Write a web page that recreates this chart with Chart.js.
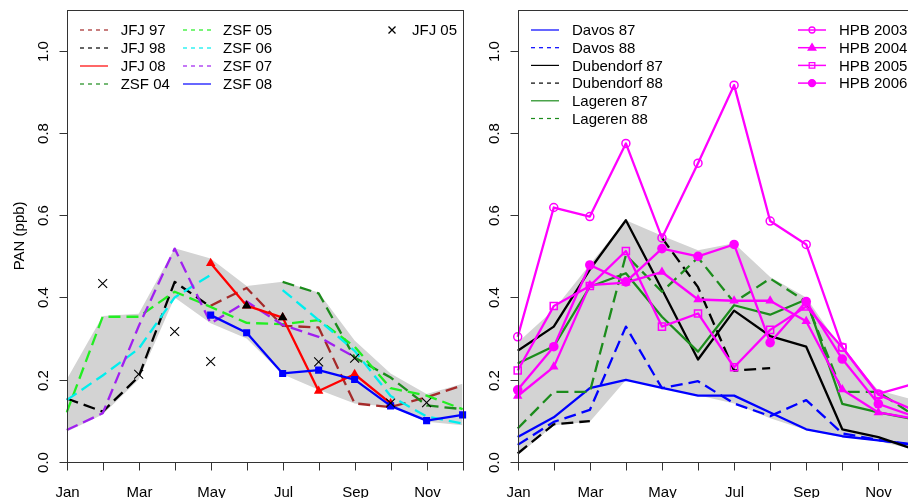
<!DOCTYPE html>
<html>
<head>
<meta charset="utf-8">
<script src="https://cdn.jsdelivr.net/npm/chart.js@4.4.0/dist/chart.umd.min.js"></script>
<style>
html, body { margin: 0; padding: 0; background: #fff; overflow: hidden; width: 908px; height: 498px; }
#leftChart { position: absolute; left: 0; top: 0; }
#rightChart { position: absolute; left: 470px; top: 0; }
</style>
</head>
<body>
<canvas id="leftChart" width="470" height="498"></canvas>
<canvas id="rightChart" width="460" height="498"></canvas>
<script>
// months on the x axis, only every second one is labelled
var months = ['Jan', 'Feb', 'Mar', 'Apr', 'May', 'Jun', 'Jul', 'Aug', 'Sep', 'Oct', 'Nov', 'Dec'];
var monthTickLabels = ['Jan', '', 'Mar', '', 'May', '', 'Jul', '', 'Sep', '', 'Nov', ''];
var yTickValues = [0, 0.2, 0.4, 0.6, 0.8, 1.0];
var yTickLabels = ['0.0', '0.2', '0.4', '0.6', '0.8', '1.0'];

// left panel: Jungfraujoch / Zugspitze
var bandLeftUpper = [0.20, 0.355, 0.36, 0.52, 0.495, 0.428, 0.438, 0.412, 0.295, 0.215, 0.165, 0.19];
var bandLeftLower = [0.073, 0.115, 0.20, 0.40, 0.337, 0.30, 0.213, 0.175, 0.142, 0.134, 0.097, 0.089];
var jfj97 = [null, null, null, null, 0.38, 0.423, 0.331, 0.327, 0.142, 0.133, 0.157, 0.186];
var jfj98 = [0.154, 0.122, 0.207, 0.438, 0.377, null, null, null, null, null, null, null];
var jfj08 = [null, null, null, null, 0.483, 0.38, 0.351, 0.172, 0.213, 0.142, null, null];
var jfj08Black = [null, null, null, null, null, 0.38, 0.351, null, null, null, null, null];
var jfj05 = [null, 0.434, 0.213, 0.317, 0.244, null, null, 0.243, 0.252, 0.143, 0.144, null];
var zsf04 = [null, null, null, null, null, null, 0.438, 0.41, 0.254, 0.205, 0.137, 0.128];
var zsf05 = [0.12, 0.353, 0.353, 0.414, 0.377, 0.338, 0.335, 0.345, 0.28, 0.179, 0.161, 0.128];
var zsf06 = [0.15, 0.21, 0.275, 0.40, 0.455, null, 0.418, 0.345, 0.27, 0.16, 0.11, 0.093];
var zsf07 = [0.077, 0.118, 0.33, 0.519, 0.337, 0.39, 0.333, 0.304, 0.255, null, null, null];
var zsf08 = [null, null, null, null, 0.357, 0.314, 0.215, 0.223, 0.20, 0.136, 0.10, 0.114];

// right panel: lowland sites and Hohenpeissenberg
var bandRightUpper = [0.29, 0.37, 0.48, 0.588, 0.55, 0.515, 0.532, 0.45, 0.40, 0.272, 0.174, 0.15];
var bandRightLower = [0.015, 0.089, 0.097, 0.199, 0.178, 0.162, 0.142, 0.106, 0.077, 0.06, 0.05, 0.03];
var davos87 = [0.06, 0.108, 0.179, 0.199, 0.18, 0.161, 0.161, 0.12, 0.079, 0.062, 0.052, 0.042];
var davos88 = [0.041, 0.097, 0.126, 0.329, 0.179, 0.196, 0.142, 0.111, 0.15, 0.069, 0.053, 0.04];
var dub87 = [0.27, 0.329, 0.468, 0.588, 0.42, 0.249, 0.368, 0.306, 0.28, 0.079, 0.06, 0.03];
var dub88 = [0.02, 0.091, 0.099, null, 0.545, 0.425, 0.222, 0.228, null, null, null, null];
var lag87 = [0.239, 0.281, 0.426, 0.459, 0.353, 0.268, 0.381, 0.358, 0.395, 0.141, 0.12, 0.103];
var lag88 = [0.081, 0.17, 0.17, 0.503, 0.414, 0.497, 0.388, 0.446, 0.39, 0.17, 0.17, 0.112];
var hpb2003 = [0.304, 0.619, 0.597, 0.775, 0.545, 0.727, 0.917, 0.586, 0.529, 0.279, 0.165, 0.19];
var hpb2004 = [0.16, 0.231, 0.43, 0.436, 0.462, 0.395, 0.392, 0.392, 0.342, 0.176, 0.12, 0.105];
var hpb2005 = [0.222, 0.379, 0.428, 0.513, 0.329, 0.361, 0.23, 0.321, 0.378, 0.278, 0.163, 0.125];
var hpb2006 = [0.175, 0.28, 0.479, 0.438, 0.519, 0.50, 0.529, 0.29, 0.39, 0.25, 0.141, 0.11];

var FONT = '15px "Liberation Sans", Arial, sans-serif';
var DASH = [12, 6];
var GREY = '#D3D3D3';

function series(label, data, color, dashed, extra){
	return Object.assign({
		label: label,
		data: data,
		borderColor: color,
		backgroundColor: color,
		borderWidth: 2.3,
		borderDash: dashed ? DASH : [],
		borderJoinStyle: 'round',
		pointRadius: 0,
		pointHoverRadius: 0,
		fill: false,
		spanGaps: false,
		tension: 0
	}, extra || {});
}

function band(upper, lower){
	return [
		{label: 'bandUpper', data: upper, borderColor: 'rgba(0,0,0,0)', backgroundColor: GREY, borderWidth: 0, pointRadius: 0, fill: '+1', order: 1000},
		{label: 'bandLower', data: lower, borderColor: 'rgba(0,0,0,0)', backgroundColor: GREY, borderWidth: 0, pointRadius: 0, fill: false, order: 1001}
	];
}

// later in list = drawn on top (like R)
function stack(list){
	list.forEach(function(d, i){ d.order = list.length - i; });
	return list;
}

function drawMarker(ctx, style, x, y, r, color, filled){
	ctx.save();
	ctx.strokeStyle = color;
	ctx.fillStyle = color;
	ctx.lineWidth = 1.3;
	ctx.setLineDash([]);
	ctx.beginPath();
	if(style == 'circle'){
		ctx.arc(x, y, r, 0, Math.PI * 2);
	} else if(style == 'rect'){
		ctx.rect(x - r * 0.8, y - r * 0.8, r * 1.6, r * 1.6);
	} else if(style == 'triangle'){
		ctx.moveTo(x, y - r);
		ctx.lineTo(x + r * 0.95, y + r * 0.6);
		ctx.lineTo(x - r * 0.95, y + r * 0.6);
		ctx.closePath();
	} else if(style == 'cross'){
		ctx.moveTo(x - r, y - r); ctx.lineTo(x + r, y + r);
		ctx.moveTo(x - r, y + r); ctx.lineTo(x + r, y - r);
	}
	if(filled) ctx.fill();
	ctx.stroke();
	ctx.restore();
}

function seg(ctx, x1, y1, x2, y2){
	ctx.beginPath();
	ctx.moveTo(x1, y1);
	ctx.lineTo(x2, y2);
	ctx.stroke();
}

// R-like axes, box, labels and legend
var rAxes = {
	id: 'rAxes',
	afterDraw: function(chart, args, opts){
		var ctx = chart.ctx, a = chart.chartArea;
		var xs = chart.scales.x, ys = chart.scales.y;
		ctx.save();
		ctx.strokeStyle = '#333';
		ctx.lineWidth = 1;
		ctx.setLineDash([]);
		var l = Math.round(a.left) + 0.5, t = Math.round(a.top) + 0.5;
		var r = Math.round(a.right) + 0.5, b = Math.round(a.bottom) + 0.5;
		ctx.strokeRect(l, t, r - l, b - t);

		ctx.fillStyle = '#000';
		ctx.font = FONT;
		ctx.textAlign = 'center';
		ctx.textBaseline = 'alphabetic';
		for(var i = 0; i < months.length; i++){
			var x = Math.round(xs.getPixelForValue(i)) + 0.5;
			seg(ctx, x, b, x, b + 8);
			if(monthTickLabels[i]) ctx.fillText(monthTickLabels[i], x, 497);
		}
		for(var j = 0; j < yTickValues.length; j++){
			var y = Math.round(ys.getPixelForValue(yTickValues[j])) + 0.5;
			seg(ctx, l - 8, y, l, y);
			ctx.save();
			ctx.translate(a.left - 19, y);
			ctx.rotate(-Math.PI / 2);
			ctx.fillText(yTickLabels[j], 0, 0);
			ctx.restore();
		}
		if(opts.title){
			ctx.save();
			ctx.translate(24, (a.top + a.bottom) / 2);
			ctx.rotate(-Math.PI / 2);
			ctx.fillText(opts.title, 0, 0);
			ctx.restore();
		}

		// legend
		ctx.textAlign = 'left';
		ctx.textBaseline = 'middle';
		(opts.legend || []).forEach(function(e){
			var y = a.top + 20 + e.row * opts.rowStep;
			var x1 = a.left + e.x, x2 = x1 + 28;
			if(e.line){
				ctx.strokeStyle = e.color;
				ctx.lineWidth = e.lw || 1.2;
				ctx.setLineDash(e.dashed ? [4, 4] : []);
				seg(ctx, x1, y, x2, y);
				ctx.setLineDash([]);
			}
			if(e.marker){
				drawMarker(ctx, e.marker, e.line ? (x1 + x2) / 2 : x1 + 3, y, e.mr || 3.5, e.color, e.filled);
			}
			ctx.fillStyle = '#000';
			ctx.fillText(e.text, a.left + e.tx, y + 1);
		});
		ctx.restore();
	}
};

function makeOptions(padding, title, legend, rowStep){
	return {
		responsive: false,
		animation: false,
		events: [],
		layout: {padding: padding},
		scales: {
			x: {type: 'category', labels: months, offset: false, display: false},
			y: {min: 0, max: 1.1, display: false}
		},
		plugins: {
			legend: {display: false},
			tooltip: {enabled: false},
			filler: {drawTime: 'beforeDatasetsDraw'},
			rAxes: {title: title, legend: legend, rowStep: rowStep}
		}
	};
}

var leftDatasets = band(bandLeftUpper, bandLeftLower).concat(stack([
	series('JFJ 97', jfj97, '#A52A2A', true),
	series('JFJ 98', jfj98, '#000000', true),
	series('ZSF 04', zsf04, '#1C8C1C', true),
	series('ZSF 05', zsf05, '#22EE22', true),
	series('ZSF 06', zsf06, '#00EEEE', true),
	series('ZSF 07', zsf07, '#A020F0', true),
	series('JFJ 08', jfj08, '#FF0000', false, {pointRadius: 5.5, pointStyle: 'triangle', pointBorderWidth: 0}),
	series('JFJ 08 b', jfj08Black, '#000000', false, {showLine: false, pointRadius: 5.5, pointStyle: 'triangle', pointBorderWidth: 0}),
	series('ZSF 08', zsf08, '#0000FF', false, {pointRadius: 5, pointStyle: 'rect', pointBorderWidth: 0}),
	series('JFJ 05', jfj05, '#000000', false, {showLine: false, pointRadius: 6.3, pointStyle: 'crossRot', pointBorderWidth: 1.1, backgroundColor: 'rgba(0,0,0,0)'})
]));

var leftLegend = [
	{text: 'JFJ 97', color: '#A52A2A', line: true, dashed: true, x: 13.3, tx: 54, row: 0},
	{text: 'JFJ 98', color: '#000000', line: true, dashed: true, x: 13.3, tx: 54, row: 1},
	{text: 'JFJ 08', color: '#FF0000', line: true, dashed: false, x: 13.3, tx: 54, row: 2},
	{text: 'ZSF 04', color: '#1C8C1C', line: true, dashed: true, x: 13.3, tx: 54, row: 3},
	{text: 'ZSF 05', color: '#22EE22', line: true, dashed: true, x: 116.3, tx: 156.3, row: 0},
	{text: 'ZSF 06', color: '#00EEEE', line: true, dashed: true, x: 116.3, tx: 156.3, row: 1},
	{text: 'ZSF 07', color: '#A020F0', line: true, dashed: true, x: 116.3, tx: 156.3, row: 2},
	{text: 'ZSF 08', color: '#0000FF', line: true, dashed: false, x: 116.3, tx: 156.3, row: 3},
	{text: 'JFJ 05', color: '#000000', line: false, marker: 'cross', mr: 3.5, x: 322.3, tx: 345.3, row: 0}
];

var HPB = '#FF00FF';
var openPt = 'rgba(0,0,0,0)';
var rightDatasets = band(bandRightUpper, bandRightLower).concat(stack([
	series('Davos 87', davos87, '#0000FF', false),
	series('Davos 88', davos88, '#0000FF', true),
	series('Dubendorf 87', dub87, '#000000', false),
	series('Dubendorf 88', dub88, '#000000', true),
	series('Lageren 87', lag87, '#1C8C1C', false),
	series('Lageren 88', lag88, '#1C8C1C', true),
	series('HPB 2003', hpb2003, HPB, false, {pointRadius: 4, pointStyle: 'circle', pointBackgroundColor: openPt, pointBorderWidth: 1.5}),
	series('HPB 2004', hpb2004, HPB, false, {pointRadius: 5.5, pointStyle: 'triangle', pointBorderWidth: 0}),
	series('HPB 2005', hpb2005, HPB, false, {pointRadius: 5, pointStyle: 'rect', pointBackgroundColor: openPt, pointBorderWidth: 1.5}),
	series('HPB 2006', hpb2006, HPB, false, {pointRadius: 4.8, pointStyle: 'circle', pointBorderWidth: 0})
]));

var rightLegend = [
	{text: 'Davos 87', color: '#0000FF', line: true, dashed: false, x: 13.3, tx: 54.3, row: 0},
	{text: 'Davos 88', color: '#0000FF', line: true, dashed: true, x: 13.3, tx: 54.3, row: 1},
	{text: 'Dubendorf 87', color: '#000000', line: true, dashed: false, x: 13.3, tx: 54.3, row: 2},
	{text: 'Dubendorf 88', color: '#000000', line: true, dashed: true, x: 13.3, tx: 54.3, row: 3},
	{text: 'Lageren 87', color: '#1C8C1C', line: true, dashed: false, x: 13.3, tx: 54.3, row: 4},
	{text: 'Lageren 88', color: '#1C8C1C', line: true, dashed: true, x: 13.3, tx: 54.3, row: 5},
	{text: 'HPB 2003', color: HPB, line: true, lw: 1.5, marker: 'circle', mr: 3, filled: false, x: 280.3, tx: 321.3, row: 0},
	{text: 'HPB 2004', color: HPB, line: true, lw: 1.5, marker: 'triangle', mr: 4, filled: true, x: 280.3, tx: 321.3, row: 1},
	{text: 'HPB 2005', color: HPB, line: true, lw: 1.5, marker: 'rect', mr: 3.5, filled: false, x: 280.3, tx: 321.3, row: 2},
	{text: 'HPB 2006', color: HPB, line: true, lw: 1.5, marker: 'circle', mr: 3.5, filled: true, x: 280.3, tx: 321.3, row: 3}
];

window.leftChart = new Chart(document.getElementById('leftChart'), {
	type: 'line',
	data: {labels: months, datasets: leftDatasets},
	options: makeOptions({left: 66.7, right: 6.4, top: 10, bottom: 36.3}, 'PAN (ppb)', leftLegend, 18),
	plugins: [rAxes]
});

window.rightChart = new Chart(document.getElementById('rightChart'), {
	type: 'line',
	data: {labels: months, datasets: rightDatasets},
	options: makeOptions({left: 47.7, right: 15.6, top: 10, bottom: 36.3}, null, rightLegend, 17.7),
	plugins: [rAxes]
});
</script>
</body>
</html>
